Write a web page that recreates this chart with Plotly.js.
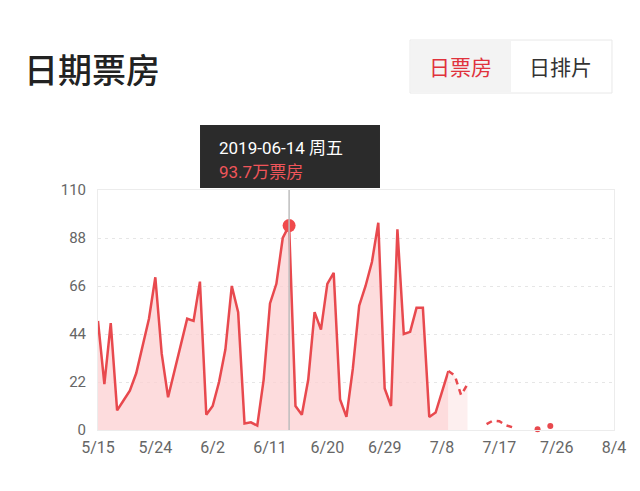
<!DOCTYPE html>
<html>
<head>
<meta charset="utf-8">
<script src="https://cdn.plot.ly/plotly-3.0.1.min.js"></script>
<style>
  body { margin: 0; background: #fff; }
  #chart { width: 640px; height: 491px; }
</style>
</head>
<body>
<div id="chart"></div>
<script>
// daily box office, 万 (one value per day from 5/15)
var startDate = '2019-05-15';
var boxSolid = [50, 21, 49, 9, 13.5, 18, 26, 38, 51, 70,
  35, 15, 27, 39, 51, 50, 68, 7, 11, 22,
  37, 66, 54, 3, 3.5, 2, 23, 58, 67, 88,
  93.7, 11, 7, 23, 54, 46, 67, 72, 14, 6,
  28, 57, 66, 77, 95, 19, 11, 92, 44, 45,
  56, 56, 6, 8, 17, 27];
// incomplete days, drawn dashed
var dashedDates = ['2019-07-09', '2019-07-10', '2019-07-11', '2019-07-12'];
var dashedValues = [27, 25, 16, 21];
var tailDates = ['2019-07-15', '2019-07-16', '2019-07-17', '2019-07-18', '2019-07-19'];
var tailValues = [2.7, 4.3, 4, 2.2, 1.3];
var dotDates = ['2019-07-23', '2019-07-25'];
var dotValues = [0.3, 1.8];

var hoverDate = '2019-06-14';
var hoverValue = 93.7;
var hoverLabel = '2019-06-14 周五';
var hoverText = '93.7万票房';

var tickDates = ['2019-05-15', '2019-05-24', '2019-06-02', '2019-06-11', '2019-06-20',
  '2019-06-29', '2019-07-08', '2019-07-17', '2019-07-26', '2019-08-04'];
var tickText = ['5/15', '5/24', '6/2', '6/11', '6/20', '6/29', '7/8', '7/17', '7/26', '8/4'];
var yTicks = [0, 22, 44, 66, 88, 110];

function dayList(n) {
  var out = [];
  var d0 = new Date(startDate + 'T00:00:00Z');
  for (var i = 0; i < n; i++) {
    var d = new Date(d0.getTime() + i * 86400000);
    out.push(d.toISOString().slice(0, 10));
  }
  return out;
}

var red = '#e8494e';
var font = 'Roboto, "Noto Sans CJK SC", sans-serif';

var solid = {
  x: dayList(boxSolid.length), y: boxSolid,
  type: 'scatter', mode: 'lines',
  line: {color: red, width: 2.5},
  fill: 'tozeroy', fillcolor: 'rgba(252,208,210,0.75)',
  hoverinfo: 'skip'
};
var dashed = {
  x: dashedDates, y: dashedValues,
  type: 'scatter', mode: 'lines',
  line: {color: red, width: 2.5, dash: '6px,5px'},
  fill: 'tozeroy', fillcolor: 'rgba(252,228,229,0.6)',
  hoverinfo: 'skip'
};
var tail = {
  x: tailDates, y: tailValues,
  type: 'scatter', mode: 'lines',
  line: {color: red, width: 2.5, dash: '6px,5px'},
  hoverinfo: 'skip'
};
var dots = {
  x: dotDates, y: dotValues,
  type: 'scatter', mode: 'markers',
  marker: {color: red, size: 6},
  hoverinfo: 'skip', cliponaxis: false
};
var hover = {
  x: [hoverDate], y: [hoverValue],
  type: 'scatter', mode: 'markers',
  marker: {color: '#f04a4c', size: 13},
  hoverinfo: 'skip', cliponaxis: false
};

var layout = {
  width: 640, height: 491,
  margin: {l: 98, r: 26, t: 190, b: 61},
  paper_bgcolor: '#fff', plot_bgcolor: '#fff',
  showlegend: false,
  font: {family: font, color: '#666', size: 15},
  xaxis: {
    type: 'date',
    range: ['2019-05-15', '2019-08-04'],
    tickvals: tickDates, ticktext: tickText,
    showgrid: false, zeroline: false,
    showline: true, linecolor: '#ececec', linewidth: 1, mirror: true,
    ticks: '', ticklabelstandoff: 3,
    tickfont: {size: 16, color: '#666'},
    fixedrange: true
  },
  yaxis: {
    range: [0, 110],
    tickvals: yTicks,
    showgrid: true, gridcolor: '#e6e6e6', griddash: '3px,4px',
    zeroline: false,
    showline: true, linecolor: '#ececec', linewidth: 1, mirror: true,
    ticks: '', ticklabelstandoff: 8,
    tickfont: {size: 15, color: '#666'},
    fixedrange: true
  },
  shapes: [
    {type: 'line', xref: 'x', yref: 'paper', x0: hoverDate, x1: hoverDate, y0: 0, y1: 1,
      line: {color: '#bdbdbd', width: 1.5}, layer: 'above'},
    {type: 'rect', xref: 'paper', yref: 'paper', x0: 0.1977, x1: 0.5465, y0: 1.0083, y1: 1.271,
      fillcolor: '#2b2b2b', line: {width: 0}},
    {type: 'rect', xref: 'paper', yref: 'paper', x0: 0.6047, x1: 0.9961, y0: 1.404, y1: 1.625,
      fillcolor: '#fff', line: {color: '#e8e8e8', width: 1}},
    {type: 'rect', xref: 'paper', yref: 'paper', x0: 0.6057, x1: 0.8004, y0: 1.408, y1: 1.621,
      fillcolor: '#f3f3f3', line: {width: 0}}
  ],
  annotations: [
    {xref: 'paper', yref: 'paper', x: -0.1473, y: 1.508, xanchor: 'left', yanchor: 'middle',
      text: '日期票房', showarrow: false,
      font: {family: '"Noto Sans CJK SC"', size: 34, color: '#222', weight: 500}},
    {xref: 'paper', yref: 'paper', x: 0.7016, y: 1.517, xanchor: 'center', yanchor: 'middle',
      text: '日票房', showarrow: false,
      font: {family: '"Noto Sans CJK SC"', size: 21, color: '#e0323c'}},
    {xref: 'paper', yref: 'paper', x: 0.897, y: 1.517, xanchor: 'center', yanchor: 'middle',
      text: '日排片', showarrow: false,
      font: {family: '"Noto Sans CJK SC"', size: 21, color: '#333'}},
    {xref: 'paper', yref: 'paper', x: 0.2306, y: 1.175, xanchor: 'left', yanchor: 'middle',
      text: hoverLabel, showarrow: false,
      font: {family: font, size: 17, color: '#fff'}},
    {xref: 'paper', yref: 'paper', x: 0.2306, y: 1.075, xanchor: 'left', yanchor: 'middle',
      text: hoverText, showarrow: false,
      font: {family: font, size: 17, color: '#f0555a'}}
  ]
};

Plotly.newPlot('chart', [solid, dashed, tail, dots, hover], layout, {displayModeBar: false, staticPlot: true});
</script>
</body>
</html>
